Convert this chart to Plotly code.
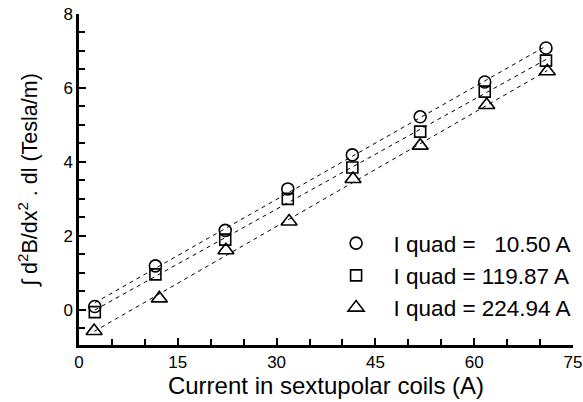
import numpy as np
import plotly.graph_objects as go

x_current = [2.4, 11.6, 22.2, 31.7, 41.5, 51.8, 61.6, 70.9]
y_circle = [0.09, 1.19, 2.15, 3.27, 4.19, 5.22, 6.16, 7.08]
y_square = [-0.06, 0.96, 1.90, 3.00, 3.85, 4.82, 5.90, 6.74]
y_triangle = [-0.57, 0.31, 1.61, 2.39, 3.54, 4.44, 5.54, 6.45]
x_triangle = [2.3, 12.2, 22.3, 31.9, 41.6, 51.8, 61.9, 71.1]

labels = ["I quad = \u00a0\u00a010.50 A", "I quad = 119.87 A", "I quad = 224.94 A"]
symbols = ["circle-open", "square-open", "triangle-up-open"]
sizes = [12, 11, 14]

series = [(x_current, y_circle), (x_current, y_square), (x_triangle, y_triangle)]

fig = go.Figure()
for (xs, ys) in series:
    k, b = np.polyfit(xs, ys, 1)
    xl = np.array([xs[0], xs[-1]])
    fig.add_trace(go.Scatter(x=xl, y=k * xl + b, mode="lines",
                             line=dict(color="black", width=1, dash="4px,4px"),
                             showlegend=False, hoverinfo="skip"))
for (xs, ys), lab, sym, sz in zip(series, labels, symbols, sizes):
    fig.add_trace(go.Scatter(x=xs, y=ys, mode="markers", name=lab,
                             marker=dict(symbol=sym, size=sz, color="black",
                                         line=dict(color="black", width=1.6))))

font = "Liberation Sans, Arial, sans-serif"
fig.update_layout(
    width=583, height=402,
    margin=dict(l=79, r=10, t=14, b=57, autoexpand=False),
    paper_bgcolor="white", plot_bgcolor="white",
    font=dict(family=font, color="black", size=17),
    showlegend=True,
    legend=dict(x=0.485, y=0.21, xanchor="left", yanchor="middle",
                bgcolor="rgba(0,0,0,0)", font=dict(size=22.5, family=font),
                itemwidth=65, tracegroupgap=0),
)
fig.update_xaxes(
    range=[0, 75], tickvals=[0, 15, 30, 45, 60, 75],
    showline=True, linecolor="black", linewidth=2.5,
    ticks="inside", ticklen=7, tickwidth=2, tickcolor="black",
    minor=dict(dtick=5, ticks="inside", ticklen=6, tickwidth=2, tickcolor="black"),
    showgrid=False, zeroline=False, automargin=True,
    title=dict(text="Current in sextupolar coils (A)", font=dict(size=24), standoff=7),
    tickfont=dict(size=17),
)
fig.update_yaxes(
    range=[-0.95, 8], tickvals=[0, 2, 4, 6, 8],
    showline=True, linecolor="black", linewidth=2.5,
    ticks="inside", ticklen=7, tickwidth=2, tickcolor="black",
    minor=dict(dtick=0.5, ticks="inside", ticklen=6, tickwidth=2, tickcolor="black"),
    showgrid=False, zeroline=False, automargin=True,
    title=dict(text="\u222b d<sup>2</sup>B/dx<sup>2</sup> . dl (Tesla/m)" + "\u00a0" * 7,
               font=dict(size=21.5), standoff=20),
    tickfont=dict(size=17),
)
fig.write_html("out.html", config={"displayModeBar": False},
               post_script="document.body.style.margin='0';document.body.style.overflow='hidden';")
